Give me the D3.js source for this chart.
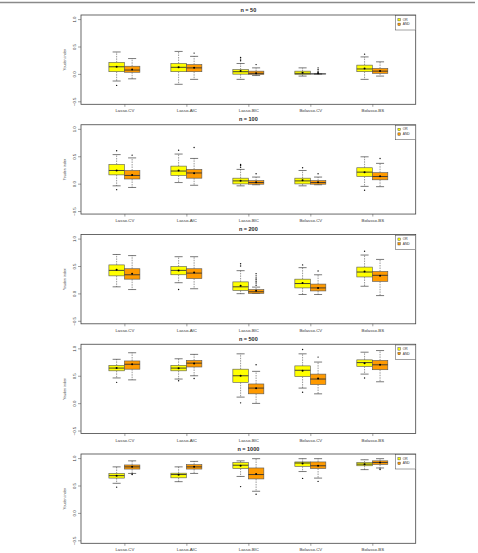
<!DOCTYPE html>
<html>
<head>
<meta charset="utf-8">
<script src="https://cdn.jsdelivr.net/npm/d3@7"></script>
<style>
  body { margin: 0; background: #fff; }
  svg { display: block; font-family: "Liberation Sans", Arial, sans-serif; }
</style>
</head>
<body>
<svg id="chart" width="478" height="553"></svg>
<script>
const methods = ['Lasso-CV', 'Lasso-AIC', 'Lasso-BIC', 'Bolasso-CV', 'Bolasso-BS'];
const sampleSizes = [50, 100, 200, 500, 1000];
const groups = ['OR', 'AND'];
const yTicks = [-0.5, 0, 0.5, 1];

// one row per method: [lower whisker, q1, median, q3, upper whisker, mean]
const or50 = [[-0.13, 0.04, 0.13, 0.21, 0.40, 0.13], [-0.19, 0.04, 0.12, 0.19, 0.41, 0.12], [-0.10, -0.005, 0.04, 0.08, 0.19, 0.055], [-0.04, -0.01, 0.01, 0.05, 0.11, 0.02], [-0.10, 0.04, 0.09, 0.16, 0.31, 0.10]];
const and50 = [[-0.09, 0.03, 0.07, 0.14, 0.28, 0.08], [-0.10, 0.04, 0.11, 0.17, 0.32, 0.11], [-0.03, -0.01, 0.01, 0.05, 0.11, 0.01], [0, 0, 0, 0, 0, 0.01], [-0.04, 0.01, 0.05, 0.10, 0.22, 0.055]];
const or100 = [[-0.04, 0.16, 0.24, 0.35, 0.53, 0.24], [0.02, 0.15, 0.23, 0.32, 0.54, 0.24], [-0.04, -0.005, 0.05, 0.10, 0.26, 0.055], [-0.04, -0.005, 0.05, 0.10, 0.24, 0.06], [-0.05, 0.13, 0.21, 0.29, 0.49, 0.21]];
const and100 = [[-0.07, 0.085, 0.15, 0.24, 0.47, 0.16], [-0.03, 0.10, 0.195, 0.26, 0.46, 0.19], [-0.02, -0.01, 0.02, 0.055, 0.12, 0.025], [-0.02, -0.01, 0.02, 0.055, 0.12, 0.025], [-0.055, 0.07, 0.13, 0.20, 0.37, 0.135]];
const or200 = [[0.12, 0.32, 0.42, 0.52, 0.71, 0.43], [0.195, 0.34, 0.42, 0.49, 0.67, 0.42], [-0.005, 0.055, 0.12, 0.21, 0.415, 0.14], [-0.02, 0.10, 0.18, 0.26, 0.47, 0.19], [0.13, 0.30, 0.39, 0.48, 0.70, 0.40]];
const and200 = [[0.07, 0.26, 0.34, 0.45, 0.69, 0.36], [0.085, 0.27, 0.37, 0.45, 0.67, 0.38], [0, 0, 0.03, 0.07, 0.115, 0.05], [-0.02, 0.045, 0.10, 0.17, 0.34, 0.10], [-0.04, 0.22, 0.33, 0.40, 0.62, 0.32]];
const or500 = [[0.46, 0.59, 0.64, 0.69, 0.80, 0.64], [0.44, 0.59, 0.64, 0.69, 0.81, 0.635], [0.11, 0.38, 0.50, 0.62, 0.90, 0.50], [0.275, 0.485, 0.60, 0.68, 0.90, 0.59], [0.53, 0.67, 0.74, 0.79, 0.93, 0.73]];
const and500 = [[0.425, 0.62, 0.71, 0.77, 0.92, 0.71], [0.50, 0.66, 0.73, 0.78, 0.89, 0.725], [-0.005, 0.17, 0.275, 0.35, 0.58, 0.27], [0.17, 0.34, 0.44, 0.53, 0.75, 0.45], [0.39, 0.61, 0.70, 0.78, 0.96, 0.70]];
const or1000 = [[0.54, 0.635, 0.68, 0.72, 0.84, 0.68], [0.57, 0.64, 0.70, 0.725, 0.84, 0.695], [0.665, 0.81, 0.87, 0.92, 0.95, 0.86], [0.755, 0.85, 0.91, 0.93, 0.99, 0.90], [0.79, 0.86, 0.89, 0.92, 0.97, 0.89]];
const and1000 = [[0.72, 0.80, 0.84, 0.875, 0.95, 0.84], [0.72, 0.80, 0.84, 0.88, 0.94, 0.84], [0.395, 0.62, 0.70, 0.82, 0.99, 0.71], [0.635, 0.81, 0.86, 0.93, 0.99, 0.86], [0.82, 0.885, 0.92, 0.95, 0.99, 0.92]];

// outliers per method
const orOut50 = [[-0.21], [], [0.24, 0.27, 0.30], [], [0.36]];
const andOut50 = [[], [0.38], [0.17], [0.03, 0.05, 0.08, 0.11], []];
const orOut100 = [[0.60, -0.11], [0.61], [0.30, 0.33, 0.35], [0.29], [-0.12]];
const andOut100 = [[0.52], [0.66], [0.18], [0.18], [0.46]];
const orOut200 = [[], [0.07], [0.50, 0.54], [0.52], [0.77]];
const andOut200 = [[], [], [0.15, 0.19, 0.22, 0.25, 0.28, 0.32, 0.36], [0.41], []];
const orOut500 = [[0.38], [0.41], [0.005], [0.98, 0.20], [0.46]];
const andOut500 = [[], [0.45], [0.70], [0.84], []];
const orOut1000 = [[0.47], [], [0.48], [0.63], []];
const andOut1000 = [[0.70, 0.71], [], [0.34], [0.575], [0.80, 0.79]];

const orStats = [or50, or100, or200, or500, or1000];
const andStats = [and50, and100, and200, and500, and1000];
const orOuts = [orOut50, orOut100, orOut200, orOut500, orOut1000];
const andOuts = [andOut50, andOut100, andOut200, andOut500, andOut1000];

const colors = { OR: '#ffff00', AND: '#ff9a00' };

const svg = d3.select('#chart');
svg.append('rect').attr('width', 478).attr('height', 553).attr('fill', '#fff');

// page frame line at top
svg.append('line')
    .attr('x1', 0).attr('x2', 475).attr('y1', 2.5).attr('y2', 2.5)
    .attr('stroke', '#8a8a8a').attr('stroke-width', 1.5);

const left = 81, right = 415.7, plotH = 89.3, firstTop = 15, step = 109.75;
const x = d3.scaleLinear().domain([0.3, 5.7]).range([left, right]);
const boxW = 0.25, capW = 0.13;

sampleSizes.forEach((n, p) => {
    const top = firstTop + p * step;
    const bottom = top + plotH;
    const y = d3.scaleLinear().domain([-0.555, 1.075]).range([bottom, top]);
    const g = svg.append('g');

    g.append('text')
        .attr('x', (left + right) / 2).attr('y', top - 3.5)
        .attr('text-anchor', 'middle')
        .attr('font-size', 5.5).attr('font-weight', 'bold')
        .attr('fill', '#222')
        .text(`n = ${n}`);

    // y axis
    const ya = g.append('g')
        .attr('transform', `translate(${left},0)`)
        .call(d3.axisLeft(y).tickValues(yTicks).tickFormat(d3.format('.1f')).tickSize(3));
    ya.select('.domain').remove();
    ya.selectAll('line').attr('stroke', '#444').attr('stroke-width', 0.5);
    ya.selectAll('text')
        .attr('x', null).attr('dy', null)
        .attr('transform', 'translate(-5,0) rotate(-90)')
        .attr('text-anchor', 'middle')
        .attr('font-size', 4.3).attr('fill', '#333');

    g.append('text')
        .attr('transform', `translate(66,${(top + bottom) / 2}) rotate(-90)`)
        .attr('text-anchor', 'middle')
        .attr('font-size', 3.6).attr('fill', '#333')
        .text('Youden index');

    // x axis
    const xa = g.append('g')
        .attr('transform', `translate(0,${bottom})`)
        .call(d3.axisBottom(x).tickValues(d3.range(1, 6)).tickFormat((d) => methods[d - 1]).tickSize(2.5));
    xa.select('.domain').remove();
    xa.selectAll('line').attr('stroke', '#444').attr('stroke-width', 0.5);
    xa.selectAll('text').attr('y', 5).attr('font-size', 4.3).attr('fill', '#333');

    // boxes
    groups.forEach((grp, gi) => {
        const stats = gi === 0 ? orStats[p] : andStats[p];
        const outs = gi === 0 ? orOuts[p] : andOuts[p];
        stats.forEach((s, i) => {
            const c = i + 1 + (gi === 0 ? -boxW / 2 : boxW / 2);
            const [lo, q1, med, q3, hi, mean] = s;
            const bg = g.append('g');

            bg.append('line')
                .attr('x1', x(c)).attr('x2', x(c)).attr('y1', y(q3)).attr('y2', y(hi))
                .attr('stroke', '#333').attr('stroke-width', 0.5).attr('stroke-dasharray', '1.5,1');
            bg.append('line')
                .attr('x1', x(c)).attr('x2', x(c)).attr('y1', y(q1)).attr('y2', y(lo))
                .attr('stroke', '#333').attr('stroke-width', 0.5).attr('stroke-dasharray', '1.5,1');
            [lo, hi].forEach((v) => {
                bg.append('line')
                    .attr('x1', x(c - capW / 2)).attr('x2', x(c + capW / 2))
                    .attr('y1', y(v)).attr('y2', y(v))
                    .attr('stroke', '#222').attr('stroke-width', 0.6);
            });

            bg.append('rect')
                .attr('x', x(c - boxW / 2)).attr('width', x(c + boxW / 2) - x(c - boxW / 2))
                .attr('y', y(q3)).attr('height', Math.max(0.01, y(q1) - y(q3)))
                .attr('fill', colors[grp]).attr('stroke', '#555').attr('stroke-width', 0.6);
            bg.append('line')
                .attr('x1', x(c - boxW / 2)).attr('x2', x(c + boxW / 2))
                .attr('y1', y(med)).attr('y2', y(med))
                .attr('stroke', '#333').attr('stroke-width', 0.9);

            bg.selectAll('circle.out')
                .data(outs[i])
                .join('circle')
                .attr('class', 'out')
                .attr('cx', x(c)).attr('cy', (d) => y(d))
                .attr('r', 0.7).attr('fill', '#111');

            bg.append('circle')
                .attr('cx', x(c)).attr('cy', y(mean))
                .attr('r', 1).attr('fill', '#000');
        });
    });

    // frame
    g.append('rect')
        .attr('x', left).attr('y', top)
        .attr('width', right - left).attr('height', plotH)
        .attr('fill', 'none').attr('stroke', '#444').attr('stroke-width', 0.8);

    // legend
    const lg = g.append('g').attr('transform', `translate(${right - 20},${top + 0.7})`);
    lg.append('rect')
        .attr('width', 20).attr('height', 14.3)
        .attr('fill', '#fff').attr('stroke', '#444').attr('stroke-width', 0.5);
    groups.forEach((grp, gi) => {
        lg.append('rect')
            .attr('x', 2.2).attr('y', 2.8 + gi * 4.6)
            .attr('width', 2.4).attr('height', 2.4)
            .attr('fill', colors[grp]).attr('stroke', '#333').attr('stroke-width', 0.4);
        lg.append('text')
            .attr('x', 7).attr('y', 5 + gi * 4.6)
            .attr('font-size', 3.3).attr('fill', '#333')
            .text(grp);
    });
});
</script>
</body>
</html>
